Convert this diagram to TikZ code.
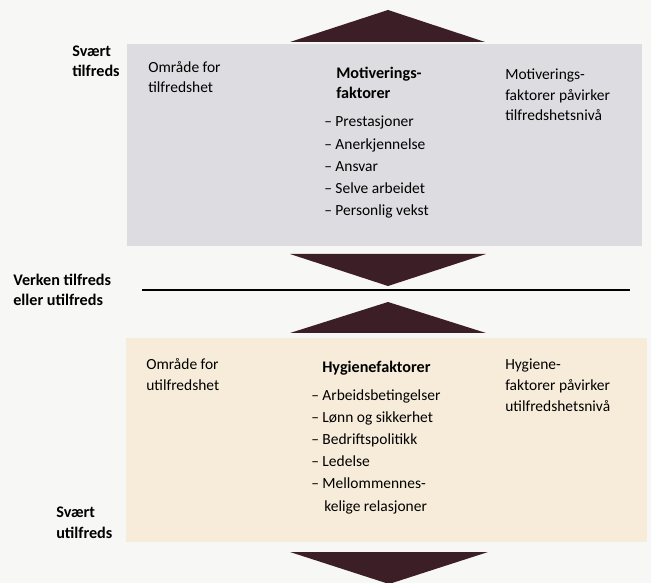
\documentclass[tikz,border=0pt]{standalone}
\usepackage{fontspec}
\setmainfont{Carlito}
\definecolor{arrowfill}{RGB}{60,30,38}
\definecolor{motbox}{RGB}{221,221,225}
\definecolor{hygbox}{RGB}{246,236,217}
\definecolor{paper}{RGB}{247,247,246}
\begin{document}
\begin{tikzpicture}[x=0.025cm, y=-0.025cm,
    lbl/.style={anchor=base west, inner sep=0pt, align=left, font=\fontsize{11}{14.9}\selectfont},
    hd/.style={lbl, font=\fontsize{11.5}{14.9}\selectfont\bfseries},
    tri/.style={fill=arrowfill}]
    \fill[paper] (0,0) rectangle (651,583);
    \useasboundingbox (0,0) rectangle (651,583);
    \fill[motbox] (127,44) rectangle (642,246);
    \fill[hygbox] (126,338) rectangle (647,542);
    \fill[tri] (290,42) -- (388,10) -- (485,42) -- cycle;
    \fill[tri] (290,254) -- (388,286) -- (486,254) -- cycle;
    \fill[tri] (290,333) -- (388,302) -- (486,333) -- cycle;
    \fill[tri] (290,552) -- (389,584) -- (488,552) -- cycle;
    \coordinate (midl) at (142,290);
    \coordinate (midr) at (630,290);
    \draw[line width=1.1pt] (midl) -- (midr);
    \node[hd] (hi) at (72,77) {Svært\\tilfreds};
    \node[hd] (mid) at (13,306) {Verken tilfreds\\eller utilfreds};
    \node[hd] (lo) at (56,538) {Svært\\utilfreds};
    \node[lbl] (omrmot) at (148,93) {Område for\\tilfredshet};
    \node[hd] (mothead) at (336,99) {Motiverings-\\faktorer};
    \node[lbl] (motnote) at (505,121) {Motiverings-\\faktorer påvirker\\tilfredshetsnivå};
    \foreach \t [count=\i from 0] in {Prestasjoner, Anerkjennelse, Ansvar, Selve arbeidet, Personlig vekst}
      \node[lbl] (mot\i) at (324,{127+22.2*\i}) {– \t};
    \node[lbl] (omrhyg) at (146,390) {Område for\\utilfredshet};
    \node[hd] (hyghead) at (322,372) {Hygienefaktorer};
    \node[lbl] (hygnote) at (505,411) {Hygiene-\\faktorer påvirker\\utilfredshetsnivå};
    \foreach \t [count=\i from 0] in {Arbeidsbetingelser, Lønn og sikkerhet, Bedriftspolitikk, Ledelse, Mellommennes-}
      \node[lbl] (hyg\i) at (311,{400+22.2*\i}) {– \t};
    \node[lbl] (hyg5) at (324,511) {kelige relasjoner};
\end{tikzpicture}
\end{document}
